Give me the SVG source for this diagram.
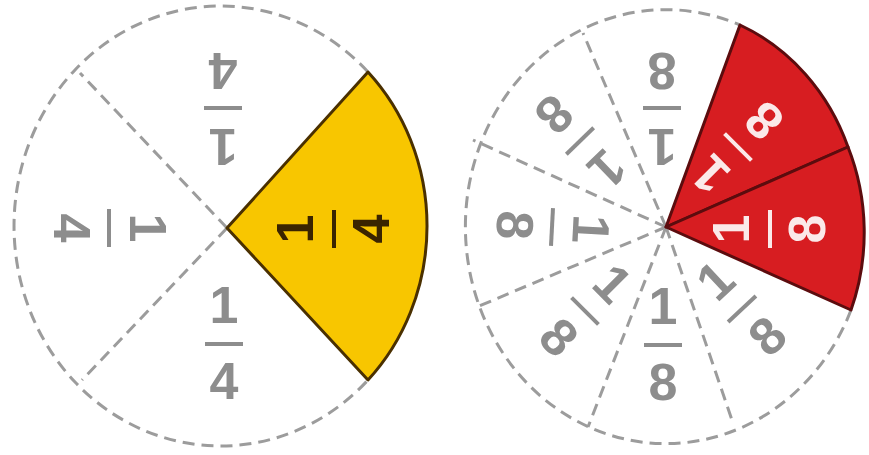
<svg xmlns="http://www.w3.org/2000/svg" width="869" height="455" viewBox="0 0 869 455">
  <style>
    .dash { fill: none; stroke: #9c9c9c; stroke-width: 3; stroke-dasharray: 12 7; stroke-linecap: butt; }
    .frac { font-family: "Liberation Sans", Arial, sans-serif; font-weight: bold; font-size: 52px; text-anchor: middle; }
    .gray { fill: #8d8d8d; }
    .dark { fill: #3a2400; }
    .white { fill: #fbe9e9; }
    .yellow { fill: #f8c600; stroke: #4a3000; stroke-width: 3; stroke-linejoin: round; }
    .red { fill: #d71d21; stroke: #5c0c0e; stroke-width: 3; stroke-linejoin: round; }
  </style>
  <defs>
    <g id="f4">
      <text x="0" y="-21">1</text>
      <rect x="-19" y="-2" width="38" height="4"/>
      <text x="0" y="55">4</text>
    </g>
    <g id="f8">
      <text x="0" y="-21">1</text>
      <rect x="-19" y="-2" width="38" height="4"/>
      <text x="0" y="55">8</text>
    </g>
  </defs>
  <rect width="869" height="455" fill="#ffffff"/>

  <!-- Left circle: quarters -->
  <g id="quarters">
    <path class="dash" d="M368,72 A206.5,220 0 1 0 368,380"/>
    <line class="dash" x1="227" y1="228" x2="80" y2="73"/>
    <line class="dash" x1="227" y1="228" x2="82" y2="380"/>
    <path id="quarter-shaded" class="yellow" d="M227,228 L368,72 A206.5,220 0 0 1 368,380 Z"/>
    <g id="q-top" class="frac gray" transform="translate(223,108) rotate(180)"><use href="#f4"/></g>
    <g id="q-left" class="frac gray" transform="translate(109,228) rotate(90)"><use href="#f4"/></g>
    <g id="q-bottom" class="frac gray" transform="translate(224,344)"><use href="#f4"/></g>
    <g id="q-right" class="frac dark" transform="translate(334,229) rotate(-90)"><use href="#f4"/></g>
  </g>

  <!-- Right circle: eighths -->
  <g id="eighths">
    <path class="dash" d="M851,310 A200.5,217 0 1 1 740,25"/>
    <line class="dash" x1="666" y1="227" x2="583" y2="33"/>
    <line class="dash" x1="666" y1="227" x2="473" y2="140"/>
    <line class="dash" x1="666" y1="227" x2="477" y2="307"/>
    <line class="dash" x1="666" y1="227" x2="588" y2="427"/>
    <line class="dash" x1="666" y1="227" x2="733" y2="423"/>
    <path id="eighth-shaded-1" class="red" d="M666,227 L740,25 A200.5,217 0 0 1 848,147 Z"/>
    <path id="eighth-shaded-2" class="red" d="M666,227 L848,147 A200.5,217 0 0 1 851,310 Z"/>
    <g id="e-top" class="frac gray" transform="translate(662,108) rotate(180)"><use href="#f8"/></g>
    <g id="e-upper-left" class="frac gray" transform="translate(580,141) rotate(136)"><use href="#f8"/></g>
    <g id="e-left" class="frac gray" transform="translate(552,227) rotate(93)"><use href="#f8"/></g>
    <g id="e-lower-left" class="frac gray" transform="translate(585,311) rotate(45)"><use href="#f8"/></g>
    <g id="e-bottom" class="frac gray" transform="translate(663,345)"><use href="#f8"/></g>
    <g id="e-lower-right" class="frac gray" transform="translate(742,309) rotate(-43)"><use href="#f8"/></g>
    <g id="e-red-upper" class="frac white" transform="translate(738,147) rotate(-135)"><use href="#f8"/></g>
    <g id="e-red-lower" class="frac white" transform="translate(770,229) rotate(-90)"><use href="#f8"/></g>
  </g>
</svg>
